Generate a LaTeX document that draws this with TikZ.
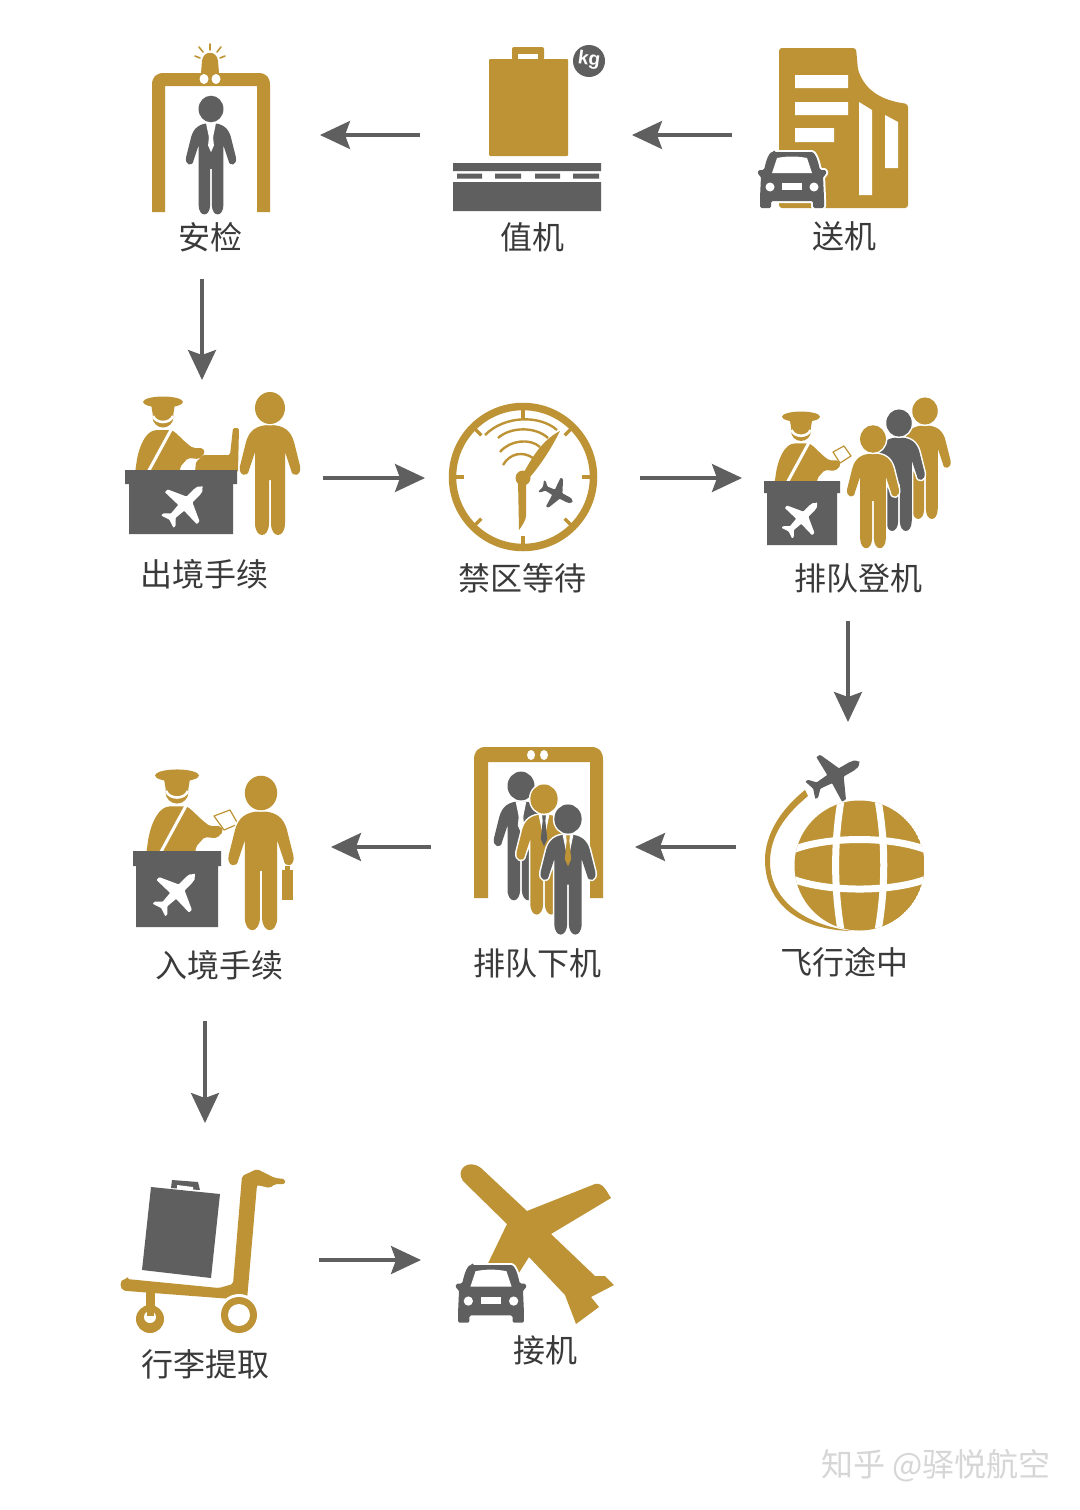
\documentclass[tikz,border=0pt]{standalone}
\usepackage{fontspec}
\usetikzlibrary{arrows.meta}
\setmainfont{Noto Sans CJK SC}
\newfontfamily\latinfont{Liberation Sans}
\definecolor{goldc}{HTML}{BD9336}
\definecolor{grayc}{HTML}{5F5F5F}
\definecolor{textc}{HTML}{3A3A3A}
\definecolor{markc}{HTML}{D6D6D6}
\tikzset{
  hub/.style 2 args={minimum width=#1pt,minimum height=#2pt,inner sep=0pt,outer sep=0pt},
  flow/.style={draw=grayc,line width=3.2pt,-{Stealth[length=30pt,width=28pt,inset=5pt]}},
  steplabel/.style={text=textc,font=\fontsize{32}{32}\selectfont,inner sep=0pt},
  halo/.style={preaction={draw=white,line width=3pt}},
}
% plane: nose on +x, length 200 before scaling
\newcommand\planeicon[5]{\begin{scope}[shift={(#1,#2)},rotate=#3,scale=#4]
  \fill[#5,rounded corners=.8pt] (100,0) .. controls (92,-14) and (80,-17) .. (65,-17) -- (26,-17) -- (-8,-92) -- (-24,-92) -- (-22,-17) -- (-68,-13) -- (-90,-36) -- (-102,-36) -- (-90,0) -- (-102,36) -- (-90,36) -- (-68,13) -- (-22,17) -- (-24,92) -- (-8,92) -- (26,17) -- (65,17) .. controls (80,17) and (92,14) .. (100,0) -- cycle;
\end{scope}}
% car: origin at top centre, 68 wide, 56 high
\newcommand\caricon[3]{\begin{scope}[shift={(#1,#2)},scale=#3]
  \fill[grayc,preaction={draw=white,line width=4pt},rounded corners=1.5pt] (-18,0) -- (18,0) .. controls (22,0) and (24,4) .. (26,10) -- (28,18) -- (34,18) -- (34,23) -- (31,24) -- (32,46) -- (32,56) -- (21,56) -- (21,49) -- (-21,49) -- (-21,56) -- (-32,56) -- (-32,46) -- (-31,24) -- (-34,23) -- (-34,18) -- (-28,18) -- (-26,10) .. controls (-24,4) and (-22,0) .. (-18,0) -- cycle;
  \fill[white] (-15,6) .. controls (-5,4) and (5,4) .. (15,6) -- (20,21) -- (-20,21) -- cycle;
  \fill[white] (-22,35) circle[radius=4.5pt] (22,35) circle[radius=4.5pt];
  \fill[white] (-10,31) rectangle (10,38);
\end{scope}}
% person: origin at head centre
\newcommand\personicon[4]{\begin{scope}[shift={(#1,#2)},scale=#3]
  \fill[#4,halo] (0,17) .. controls (-14,17) and (-21,23) .. (-24,34) -- (-30,58) .. controls (-32,68) and (-22,70) .. (-21,62) -- (-15,44) -- (-15,115) .. controls (-15,131) and (-1,131) .. (-1,115) -- (-1,72) -- (1,72) -- (1,115) .. controls (1,131) and (15,131) .. (15,115) -- (15,44) -- (21,62) .. controls (22,70) and (32,68) .. (30,58) -- (24,34) .. controls (21,23) and (14,17) .. (0,17) -- cycle;
  \fill[#4,halo] (0,0) ellipse[x radius=15pt,y radius=16pt];
\end{scope}}
% man with shirt and tie
\newcommand\manicon[5]{\personicon{#1}{#2}{#3}{#4}
  \begin{scope}[shift={(#1,#2)},scale=#3]
  \fill[white] (-6,17) -- (6,17) -- (0,46) -- cycle;
  \fill[#5] (-2,18) -- (2,18) -- (1.5,24) -- (3.5,44) -- (0,52) -- (-3.5,44) -- (-1.5,24) -- cycle;
  \end{scope}}
% officer: origin at face centre
\newcommand\officericon[3]{\begin{scope}[shift={(#1,#2)},scale=#3]
  \fill[goldc] (0,-15) ellipse[x radius=20pt,y radius=5.5pt];
  \fill[goldc] (-12,-13) -- (12,-13) -- (10,-1) -- (-10,-1) -- cycle;
  \fill[goldc] (0,0) circle[radius=10.5pt];
  \draw[white,line width=2.6pt] (-10,-1) .. controls (-7,7) and (7,7) .. (10,-1);
  \fill[goldc,rounded corners=2pt] (-28,56) -- (-26,42) .. controls (-22,24) and (-16,16) .. (-8,13) -- (8,13) .. controls (14,16) and (20,24) .. (30,31) -- (40,31) -- (42,36) -- (36,42) -- (25,41) -- (17,50) -- (17,56) -- cycle;
  \draw[white,line width=3pt] (9,11) -- (-16,57);
\end{scope}}
\begin{document}
\begin{tikzpicture}[x=1pt,y=-1pt,line join=round]
\useasboundingbox (0,0) rectangle (1079,1510);
\fill[white] (0,0) rectangle (1079,1510);

% ---------- hub nodes (connector anchors) ----------
\node[hub={236}{100}] (songji) at (850,135) {};
\node[hub={212}{100}] (zhiji) at (526,135) {};
\node[hub={236}{288}] (anjian) at (202,135) {};
\node[hub={242}{196}] (chujing) at (202,478) {};
\node[hub={215}{100}] (jinqu) at (532.5,478) {};
\node[hub={212}{286}] (paidui) at (848,478) {};
\node[hub={224}{250}] (feixing) at (848,847) {};
\node[hub={204}{100}] (xiaji) at (533,847) {};
\node[hub={252}{348}] (rujing) at (205,847) {};
\node[hub={228}{274}] (xingli) at (205,1260) {};
\node[hub={198}{100}] (jieji) at (520,1260) {};

% ---------- 送机 ----------
\fill[goldc,rounded corners=3pt] (779,48) -- (856,48) -- (858,70) .. controls (866,90) and (880,100) .. (908,104) -- (908,208) -- (779,208) -- cycle;
\fill[white] (795,75) rectangle (848,88) (795,102) rectangle (848,115) (795,128) rectangle (834,142);
\fill[white] (859,102) -- (872,110) -- (872,195) -- (859,195) -- cycle;
\fill[white] (885,115) -- (898,122) -- (898,168) -- (885,168) -- cycle;
\caricon{792}{152}{1}

% ---------- 值机 ----------
\fill[goldc,rounded corners=1pt] (489,59) rectangle (568,156);
\fill[goldc,rounded corners=2pt] (512,60) -- (512,47) -- (544,47) -- (544,60) -- cycle;
\fill[white] (518,54) rectangle (538,59);
\fill[grayc] (589,61) circle[radius=16pt];
\node[text=white,font=\latinfont\bfseries\fontsize{19}{19}\selectfont,rotate=-8,inner sep=0pt] (kg) at (589,60) {kg};
\fill[grayc] (453,163) rectangle (601,171) (453,182) rectangle (601,211);
\fill[grayc] (457,173.5) rectangle (482,178.5) (495,173.5) rectangle (521,178.5) (535,173.5) rectangle (560,178.5) (573,173.5) rectangle (599,178.5);

% ---------- 安检 ----------
\fill[goldc] (152,212) -- (152,85) .. controls (152,77) and (156,73) .. (164,73) -- (258,73) .. controls (266,73) and (270,77) .. (270,85) -- (270,212) -- (257,212) -- (257,86) -- (165,86) -- (165,212) -- cycle;
\fill[white] (204,79) ellipse[x radius=4.5pt,y radius=5pt] (216,79) ellipse[x radius=4.5pt,y radius=5pt];
\fill[goldc] (201,73) -- (202,61) .. controls (203,50) and (217,50) .. (218,61) -- (219,73) -- cycle;
\draw[goldc,line width=1.6pt,line cap=round] (210,44) -- (210,50) (199,47) -- (203,52) (221,47) -- (217,52) (195,56) -- (200,58) (225,56) -- (220,58);
\manicon{211}{109}{.83}{grayc}{white}

% ---------- 出境手续 ----------
\officericon{163}{417}{1}
\fill[goldc,rounded corners=1.5pt] (195,472) -- (196,462) -- (203,455) -- (230,455) -- (233,428) -- (239,428) -- (238,472) -- cycle;
\fill[grayc] (125,470) rectangle (237,484) (129,484) rectangle (233,534);
\planeicon{185}{504}{45}{.245}{white}
\personicon{270}{408}{1}{goldc}

% ---------- 禁区等待 ----------
\draw[goldc,line width=7.5pt] (523,477) circle[radius=70.5pt];
\foreach \a in {0,45,...,315} \draw[goldc,line width=3.5pt] (523,477) ++(\a:68pt) -- ++(\a+180:9pt);
\draw[goldc,line width=2.4pt] (485,435) .. controls (505,415) and (540,415) .. (557,430);
\draw[goldc,line width=2.4pt] (498,438) .. controls (510,427) and (535,426) .. (548,438);
\draw[goldc,line width=2.4pt] (500,452) .. controls (510,440) and (530,438) .. (540,447);
\draw[goldc,line width=2.4pt] (503,465) .. controls (510,453) and (523,451) .. (533,458);
\fill[goldc] (524,472) .. controls (532,458) and (542,440) .. (560,431) .. controls (553,445) and (543,462) .. (530,477) -- cycle;
\fill[goldc] (518,480) -- (519,530) .. controls (522,526) and (526,520) .. (526,516) -- (526,480) -- cycle;
\fill[goldc] (523,478) circle[radius=7.5pt];
\planeicon{557}{494}{-27}{.175}{grayc}

% ---------- 排队登机 ----------
\officericon{801}{431}{.95}
\draw[goldc,fill=white,line width=1.2pt] (833,452) -- (844,446) -- (851,456) -- (840,463) -- cycle;
\fill[grayc] (764,481) rectangle (840,493) (767,493) rectangle (837,545);
\planeicon{802}{518}{45}{.21}{white}
\personicon{925}{411}{.85}{goldc}
\personicon{899}{423}{.85}{grayc}
\personicon{873}{439}{.86}{goldc}

% ---------- 飞行途中 ----------
\begin{scope}
  \clip (859.5,865.5) circle[radius=65pt];
  \fill[goldc] (859.5,865.5) circle[radius=65pt];
  \draw[white,line width=7pt] (842,795) .. controls (833.5,840) and (833.5,890) .. (842,936);
  \draw[white,line width=7pt] (877,795) .. controls (886,840) and (886,890) .. (877,936);
  \draw[white,line width=7pt] (790,851) .. controls (825,835.7) and (894,835.7) .. (929,851);
  \draw[white,line width=7pt] (790,878) .. controls (825,892.7) and (894,892.7) .. (929,878);
\end{scope}
\fill[goldc] (805,790) .. controls (780,810) and (765,835) .. (765,860) .. controls (765,900) and (795,930) .. (852,931) .. controls (805,925) and (769,900) .. (770,860) .. controls (771,835) and (785,815) .. (808,796) -- cycle;
\planeicon{835}{776}{30}{.28}{grayc}

% ---------- 排队下机 ----------
\fill[goldc] (474,898) -- (474,760) .. controls (474,751) and (478,747) .. (486,747) -- (591,747) .. controls (599,747) and (603,751) .. (603,760) -- (603,898) -- (590,898) -- (590,762) -- (488,762) -- (488,898) -- cycle;
\fill[white] (531,755) ellipse[x radius=4pt,y radius=5pt] (544,755) ellipse[x radius=4pt,y radius=5pt];
\manicon{521}{786}{.9}{grayc}{white}
\manicon{544}{799}{.91}{goldc}{grayc}
\manicon{568}{819}{.91}{grayc}{goldc}

% ---------- 入境手续 ----------
\officericon{177}{792}{1.1}
\draw[goldc,fill=white,line width=1.2pt] (214,816) -- (230,810) -- (238,824) -- (224,830) -- cycle;
\fill[grayc] (133,851) rectangle (221,866) (136,866) rectangle (218,927);
\planeicon{177}{892}{45}{.25}{white}
\personicon{261}{793}{1.08}{goldc}
\fill[goldc] (282,870) rectangle (293,900);
\fill[goldc] (285,866) rectangle (290,871);

% ---------- 行李提取 ----------
\fill[grayc] (151,1187) -- (220,1194) -- (211,1278) -- (142,1270) -- cycle;
\fill[grayc] (171,1188) -- (172,1180) -- (198,1182) -- (200,1190) -- cycle;
\fill[white] (177,1185) -- (193,1187) -- (193,1191) -- (177,1189) -- cycle;
\fill[goldc] (146,1285) rectangle (155,1312);
\fill[goldc] (150,1319) circle[radius=14pt];
\fill[white] (150,1317) circle[radius=6pt];
\fill[goldc] (147,1308) rectangle (154,1316);
\fill[goldc,rounded corners=2pt] (127,1279) -- (219,1288) -- (233,1284) -- (242,1176) -- (257,1169) -- (275,1178) -- (285,1179) -- (285,1184) -- (275,1184) -- (270,1188) -- (257,1185) -- (247,1300) -- (219,1298) -- (127,1291) .. controls (119,1290) and (119,1279) .. (127,1279) -- cycle;
\fill[white] (239,1315) circle[radius=21pt];
\fill[goldc] (239,1315) circle[radius=18pt];
\fill[white] (239,1315) circle[radius=11pt];

% ---------- 接机 ----------
\fill[goldc] (481,1168) -- (527,1211) -- (595,1184) .. controls (603,1182) and (607,1192) .. (611,1198) -- (551,1234) -- (595,1276) -- (605,1276) -- (614,1285) -- (591,1297) -- (599,1307) -- (576,1324) -- (565,1295) -- (529,1257) -- (505,1295) -- (480,1280) -- (507,1224) -- (463,1181) .. controls (455,1170) and (468,1158) .. (481,1168) -- cycle;
\caricon{491}{1265}{1.03}

% ---------- connectors ----------
\draw[flow] (songji) -- (zhiji);
\draw[flow] (zhiji) -- (anjian);
\draw[flow] (anjian) -- (chujing);
\draw[flow] (chujing) -- (jinqu);
\draw[flow] (jinqu) -- (paidui);
\draw[flow] (paidui) -- (feixing);
\draw[flow] (feixing) -- (xiaji);
\draw[flow] (xiaji) -- (rujing);
\draw[flow] (rujing) -- (xingli);
\draw[flow] (xingli) -- (jieji);

% ---------- labels ----------
\node[steplabel] (l1) at (210,237) {安检};
\node[steplabel] (l2) at (532,237) {值机};
\node[steplabel] (l3) at (844,236) {送机};
\node[steplabel] (l4) at (204,574) {出境手续};
\node[steplabel] (l5) at (522,578) {禁区等待};
\node[steplabel] (l6) at (858,578) {排队登机};
\node[steplabel] (l7) at (219,965) {入境手续};
\node[steplabel] (l8) at (537,963) {排队下机};
\node[steplabel] (l9) at (844,962) {飞行途中};
\node[steplabel] (l10) at (205,1364) {行李提取};
\node[steplabel] (l11) at (545,1350) {接机};
\node[text=markc,font=\fontsize{32}{32}\selectfont,inner sep=0pt] (mark) at (936,1466) {知乎 @驿悦航空};
\end{tikzpicture}
\end{document}
